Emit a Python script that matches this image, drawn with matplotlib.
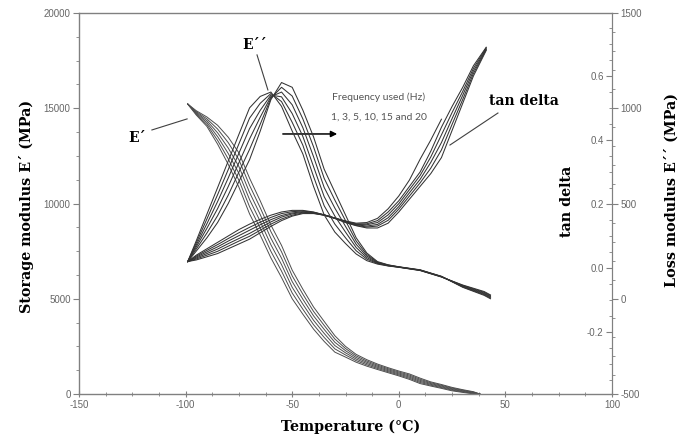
import numpy as np
import matplotlib
matplotlib.use("Agg")
import matplotlib.pyplot as plt
from matplotlib.ticker import MultipleLocator

# ---- data (6 frequencies: 1, 3, 5, 10, 15, 20 Hz) ----
freqs = [1, 3, 5, 10, 15, 20]

# storage modulus E' (MPa), left axis
storage_temps = [-99, -95, -90, -85, -80, -75, -70, -65, -60, -55, -50, -45, -40, -35, -30,
                 -25, -20, -15, -10, -5, 0, 5, 10, 15, 20, 25, 30, 35, 38]
storage_1hz = [15220, 14645, 14046, 13118, 12055, 10860, 9455, 8340, 7145, 6112, 5000, 4188, 3408, 2760, 2198,
               1938, 1668, 1462, 1287, 1118, 951, 767, 547, 418, 296, 166, 84, 8, 0]
storage_3hz = [15220, 14690, 14145, 13316, 12340, 11220, 9830, 8700, 7490, 6450, 5300, 4450, 3640, 2970, 2370,
               2050, 1750, 1530, 1344, 1170, 1002, 824, 604, 462, 336, 202, 112, 30, 0]
storage_5hz = [15220, 14735, 14244, 13514, 12625, 11580, 10205, 9060, 7835, 6788, 5600, 4712, 3872, 3180, 2542,
               2162, 1832, 1598, 1401, 1222, 1053, 881, 661, 506, 376, 238, 140, 52, 0]
storage_10hz = [15220, 14780, 14343, 13712, 12910, 11940, 10580, 9420, 8180, 7125, 5900, 4975, 4105, 3390, 2715,
                2275, 1915, 1665, 1458, 1275, 1104, 938, 718, 549, 417, 274, 169, 75, 0]
storage_15hz = [15220, 14825, 14442, 13910, 13195, 12300, 10955, 9780, 8525, 7462, 6200, 5238, 4338, 3600, 2888,
                2388, 1998, 1732, 1515, 1328, 1155, 995, 775, 592, 458, 310, 198, 98, 0]
storage_20hz = [15220, 14870, 14541, 14108, 13480, 12660, 11330, 10140, 8870, 7800, 6500, 5500, 4570, 3810, 3060,
                2500, 2080, 1800, 1572, 1380, 1206, 1052, 832, 636, 498, 346, 226, 120, 0]

# loss modulus E'' (MPa), outer right axis
loss_temps = [-99, -95, -90, -85, -80, -75, -70, -65, -60, -55, -50, -45, -40, -35, -30,
              -25, -20, -15, -10, -5, 0, 10, 20, 30, 40, 43]
loss_1hz = [195, 304, 444, 583, 723, 863, 1002, 1062, 1085, 1010, 880, 760, 590, 440, 350,
            290, 235, 200, 182, 172, 165, 148, 114, 72, 38, 20]
loss_3hz = [195, 293, 419, 546, 678, 813, 948, 1026, 1077, 1035, 926, 806, 642, 488, 392,
            320, 252, 208, 185, 173, 166, 149, 115, 70, 34, 16]
loss_5hz = [195, 282, 394, 510, 634, 764, 893, 989, 1069, 1060, 972, 852, 694, 536, 434,
            350, 269, 216, 187, 174, 166, 150, 116, 67, 30, 12]
loss_10hz = [195, 272, 370, 473, 589, 714, 839, 953, 1061, 1085, 1018, 898, 746, 584, 476,
             380, 286, 224, 190, 176, 167, 150, 116, 65, 26, 8]
loss_15hz = [195, 261, 345, 436, 544, 665, 784, 916, 1053, 1110, 1064, 944, 798, 632, 518,
             410, 303, 232, 192, 177, 167, 151, 117, 62, 22, 4]
loss_20hz = [195, 250, 320, 400, 500, 615, 730, 880, 1045, 1135, 1110, 990, 850, 680, 560,
             440, 320, 240, 195, 178, 168, 152, 118, 60, 18, 0]

# tan delta, inner right axis (1 Hz run stops near 20 C)
tan_temps = [-99, -95, -90, -85, -80, -75, -70, -65, -60, -55, -50, -45, -40, -35, -30,
             -25, -20, -15, -10, -5, 0, 5, 10, 15, 20, 25, 30, 35, 41]
tan_1hz = [0.02, 0.04, 0.06, 0.08, 0.10, 0.12, 0.137, 0.152, 0.165, 0.175, 0.18, 0.18, 0.175, 0.166, 0.156,
           0.147, 0.14, 0.142, 0.155, 0.185, 0.225, 0.275, 0.34, 0.40, 0.465, np.nan, np.nan, np.nan, np.nan]
tan_3hz = [0.02, 0.037, 0.055, 0.073, 0.092, 0.11, 0.127, 0.143, 0.158, 0.17, 0.176, 0.178, 0.174, 0.166, 0.156,
           0.146, 0.138, 0.138, 0.148, 0.175, 0.21, 0.255, 0.30, 0.365, 0.44, 0.505, 0.565, 0.632, 0.69]
tan_5hz = [0.02, 0.034, 0.05, 0.066, 0.084, 0.101, 0.118, 0.135, 0.151, 0.164, 0.172, 0.176, 0.173, 0.166, 0.156,
           0.145, 0.136, 0.135, 0.142, 0.166, 0.201, 0.245, 0.289, 0.347, 0.416, 0.486, 0.552, 0.624, 0.688]
tan_10hz = [0.02, 0.031, 0.045, 0.059, 0.076, 0.092, 0.108, 0.126, 0.144, 0.159, 0.169, 0.174, 0.172, 0.165, 0.155,
            0.144, 0.135, 0.131, 0.136, 0.157, 0.192, 0.235, 0.277, 0.33, 0.392, 0.467, 0.54, 0.616, 0.685]
tan_15hz = [0.02, 0.028, 0.04, 0.052, 0.068, 0.084, 0.099, 0.118, 0.137, 0.153, 0.165, 0.172, 0.171, 0.165, 0.155,
            0.143, 0.133, 0.128, 0.131, 0.149, 0.184, 0.225, 0.266, 0.312, 0.369, 0.449, 0.527, 0.608, 0.683]
tan_20hz = [0.02, 0.025, 0.035, 0.045, 0.06, 0.075, 0.09, 0.11, 0.13, 0.148, 0.162, 0.17, 0.17, 0.165, 0.155,
            0.142, 0.132, 0.125, 0.125, 0.14, 0.175, 0.215, 0.255, 0.295, 0.345, 0.43, 0.515, 0.6, 0.68]

storage_runs = [storage_1hz, storage_3hz, storage_5hz, storage_10hz, storage_15hz, storage_20hz]
loss_runs = [loss_1hz, loss_3hz, loss_5hz, loss_10hz, loss_15hz, loss_20hz]
tan_runs = [tan_1hz, tan_3hz, tan_5hz, tan_10hz, tan_15hz, tan_20hz]

W, H = 683, 438
spine_col = '#808080'
tick_col = '#666666'
plt.rcParams['font.family'] = ['Liberation Sans', 'DejaVu Sans']
plt.rcParams['axes.unicode_minus'] = False

fig = plt.figure(figsize=(W / 100, H / 100), dpi=100)
ax = fig.add_axes([79 / W, 1 - 394 / H, (612 - 79) / W, (394 - 13) / H])

for run in storage_runs:
    ax.plot(storage_temps, run, color='0.3', lw=0.7)

ax.set_xlim(-150, 100)
ax.set_ylim(0, 20000)
ax.xaxis.set_major_locator(MultipleLocator(50))
ax.xaxis.set_minor_locator(MultipleLocator(12.5))
ax.yaxis.set_major_locator(MultipleLocator(5000))
ax.yaxis.set_minor_locator(MultipleLocator(1250))
ax.tick_params(axis='x', which='major', direction='inout', length=4, pad=2)
ax.tick_params(axis='x', which='minor', direction='inout', length=3)
ax.tick_params(axis='y', which='major', direction='out', length=4, pad=2)
ax.tick_params(axis='y', which='minor', direction='out', length=2.5)
ax.tick_params(which='both', color=spine_col, labelcolor=tick_col, labelsize=7)
for s in ['left', 'bottom', 'top']:
    ax.spines[s].set_color(spine_col)
    ax.spines[s].set_linewidth(1.0)
ax.spines['right'].set_visible(False)

# tan delta axis: spine on the right edge, ticks and labels on its inner side
ax_tan = ax.twinx()
for run in tan_runs:
    ax_tan.plot(tan_temps, run, color='0.2', lw=0.75)
ax_tan.set_ylim(-0.394, 0.797)
for s in ['top', 'bottom', 'right']:
    ax_tan.spines[s].set_visible(False)
ax_tan.spines['left'].set_position(('axes', 1.0))
ax_tan.spines['left'].set_visible(True)
ax_tan.spines['left'].set_color(spine_col)
ax_tan.yaxis.tick_left()
ax_tan.yaxis.set_minor_locator(MultipleLocator(0.05))
ax_tan.set_yticks([-0.2, 0.0, 0.2, 0.4, 0.6])
ax_tan.yaxis.set_major_formatter(plt.FuncFormatter(lambda v, p: '%.1f' % v))
ax_tan.tick_params(axis='y', which='major', direction='out', length=4, pad=2)
ax_tan.tick_params(axis='y', which='minor', direction='out', length=2.5)
ax_tan.tick_params(which='both', color=spine_col, labelcolor=tick_col, labelsize=7)

# loss modulus axis, outer right
ax_loss = ax.twinx()
for run in loss_runs:
    ax_loss.plot(loss_temps, run, color='0.2', lw=0.75)
ax_loss.set_ylim(-500, 1500)
for s in ['top', 'bottom', 'left']:
    ax_loss.spines[s].set_visible(False)
ax_loss.spines['right'].set_color(spine_col)
ax_loss.yaxis.set_major_locator(MultipleLocator(500))
ax_loss.yaxis.set_minor_locator(MultipleLocator(100))
ax_loss.tick_params(axis='y', which='major', direction='out', length=4, pad=2)
ax_loss.tick_params(axis='y', which='minor', direction='out', length=2.5)
ax_loss.tick_params(which='both', color=spine_col, labelcolor=tick_col, labelsize=7)

# axis titles
lab = dict(family='DejaVu Serif', weight='bold', fontsize=10.3, ha='center', va='center')
fig.text(27 / W, 1 - 206 / H, 'Storage modulus E\u00b4 (MPa)', rotation=90, **lab)
fig.text(351 / W, 1 - 427 / H, 'Temperature (\u00b0C)', **lab)
fig.text(567 / W, 1 - 201 / H, 'tan delta', rotation=90, **lab)
fig.text(672 / W, 1 - 190 / H, 'Loss modulus E\u00b4\u00b4 (MPa)', rotation=90, **lab)

# curve labels and pointers (in temperature / storage modulus units)
note = dict(family='DejaVu Serif', weight='bold', fontsize=10, ha='center', va='center')
ax.text(-122.8, 13440, 'E\u00b4', **note)
ax.plot([-115.8, -99.3], [13860, 14440], color='0.25', lw=0.8)
ax.text(-67.4, 18320, 'E\u00b4\u00b4', **note)
ax.plot([-66.5, -61.4], [17800, 15960], color='0.25', lw=0.8)
ax.text(58.5, 15380, 'tan delta', **note)
ax.plot([46.5, 24.0], [14750, 13070], color='0.25', lw=0.8)

freq = dict(family=['Lato', 'DejaVu Sans'], fontsize=7.5, color='#555555', ha='center', va='center')
ax.text(-9.3, 15590, 'Frequency used (Hz)', **freq)
ax.text(-9.1, 14540, '1, 3, 5, 10, 15 and 20', **freq)
ax.annotate('', xy=(-27.6, 13650), xytext=(-55.7, 13650),
            arrowprops=dict(arrowstyle='-|>', color='black', lw=1.1, mutation_scale=9))

fig.savefig('out.png', dpi=100)
